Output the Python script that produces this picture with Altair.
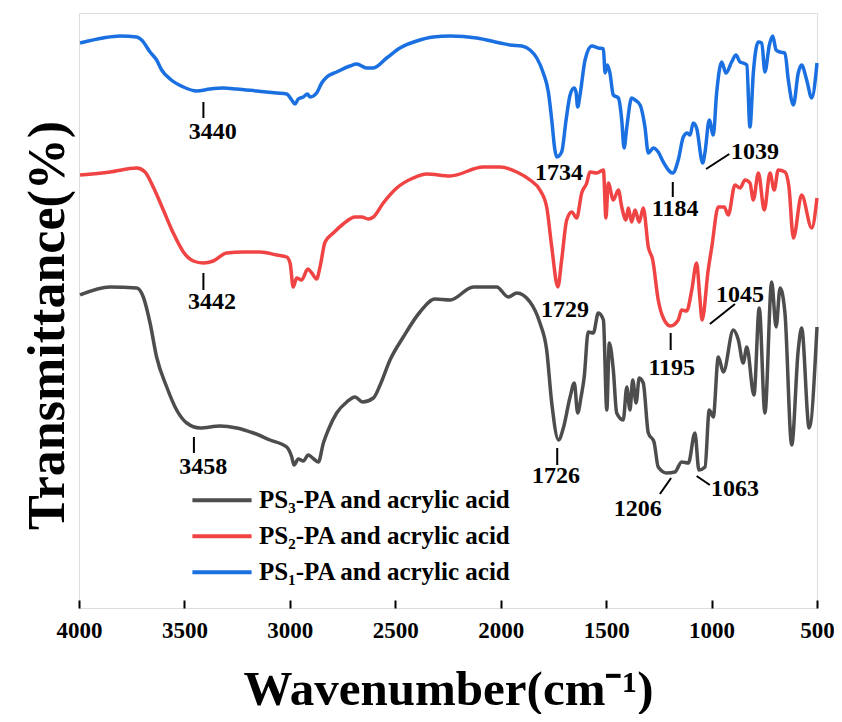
import altair as alt
import pandas as pd

# ---- data (wavenumber cm-1, transmittance a.u.) ----
blue_wn = [3995, 3886, 3806, 3726, 3703, 3663, 3632, 3608, 3568, 3505, 3442, 3379, 3316, 3252, 3157,
           3062, 3015, 2991, 2976, 2960, 2936, 2917, 2904, 2873, 2849, 2825, 2778, 2715, 2683, 2636,
           2604, 2541, 2478, 2398, 2320, 2240, 2114, 2003, 1956, 1900, 1861, 1829, 1798, 1774, 1758,
           1743, 1734, 1711, 1690, 1671, 1652, 1643, 1635, 1624, 1600, 1568, 1537, 1513, 1505, 1494,
           1482, 1466, 1442, 1426, 1415, 1402, 1379, 1363, 1339, 1316, 1300, 1276, 1253, 1229, 1184,
           1158, 1134, 1115, 1102, 1087, 1071, 1042, 1031, 1011, 992, 976, 952, 932, 905, 884,
           865, 850, 833, 818, 802, 778, 762, 747, 726, 710, 694, 675, 652, 636, 612,
           589, 573, 549, 525, 500]
blue_t = [565, 570, 572, 571, 568, 556, 548, 538, 529, 521, 517, 519, 520, 519, 517,
          515, 514, 508, 504, 509, 511, 514, 511, 515, 525, 531, 536, 542, 544, 540,
          540, 550, 560, 567, 571, 572, 570, 565, 563, 562, 558, 550, 535, 516, 488,
          458, 451, 456, 488, 513, 520, 516, 501, 513, 548, 562, 560, 559, 535, 543,
          535, 513, 510, 488, 460, 481, 510, 508, 503, 481, 455, 460, 456, 446, 435,
          448, 471, 475, 473, 485, 480, 445, 456, 488, 473, 515, 546, 535, 546, 553,
          546, 545, 543, 481, 535, 566, 565, 536, 563, 572, 558, 556, 555, 528, 503,
          535, 543, 528, 510, 545]

red_wn = [3995, 3853, 3726, 3687, 3648, 3600, 3553, 3505, 3458, 3411, 3363, 3300, 3221, 3142, 3062,
          3015, 2999, 2984, 2968, 2944, 2915, 2896, 2873, 2857, 2833, 2794, 2747, 2691, 2659, 2628,
          2604, 2557, 2493, 2415, 2351, 2240, 2083, 2003, 1924, 1861, 1814, 1782, 1758, 1729, 1711,
          1687, 1663, 1640, 1616, 1592, 1577, 1545, 1513, 1501, 1490, 1466, 1442, 1426, 1406, 1395,
          1379, 1363, 1343, 1324, 1300, 1279, 1253, 1229, 1195, 1158, 1142, 1118, 1094, 1071, 1056,
          1045, 1016, 999, 968, 940, 921, 889, 865, 841, 818, 802, 778, 750, 723, 703,
          684, 652, 633, 612, 573, 525, 500]
red_t = [433, 436, 440, 436, 421, 398, 375, 356, 347, 345, 347, 355, 356, 356, 353,
         351, 345, 321, 330, 328, 339, 335, 329, 341, 366, 375, 384, 391, 391, 389,
         391, 405, 420, 430, 434, 432, 441, 441, 436, 428, 418, 401, 361, 321, 348,
         388, 396, 390, 415, 425, 436, 435, 438, 390, 425, 408, 418, 401, 388, 400,
         386, 398, 386, 400, 361, 348, 308, 290, 282, 288, 298, 297, 318, 345, 311,
         288, 338, 361, 401, 401, 393, 423, 420, 428, 425, 408, 435, 398, 435, 418,
         438, 436, 421, 370, 413, 380, 410]

black_wn = [3995, 3853, 3726, 3695, 3663, 3632, 3584, 3537, 3489, 3426, 3331, 3252, 3173, 3094, 3015,
            2991, 2980, 2960, 2936, 2913, 2892, 2865, 2841, 2818, 2778, 2730, 2691, 2655, 2604, 2572,
            2525, 2462, 2383, 2312, 2240, 2130, 2019, 1964, 1924, 1861, 1814, 1782, 1758, 1726, 1703,
            1671, 1651, 1635, 1619, 1604, 1585, 1561, 1537, 1513, 1497, 1485, 1466, 1450, 1419, 1402,
            1387, 1374, 1358, 1343, 1324, 1300, 1273, 1253, 1213, 1174, 1142, 1110, 1079, 1060, 1031,
            1011, 992, 968, 944, 897, 873, 850, 833, 799, 774, 747, 715, 694, 675, 652,
            620, 589, 573, 537, 500]
black_t = [313, 321, 320, 311, 285, 251, 221, 198, 185, 180, 182, 180, 175, 168, 161,
           151, 143, 149, 147, 153, 150, 146, 165, 178, 195, 206, 211, 206, 210, 223,
           248, 271, 296, 309, 308, 321, 321, 311, 315, 306, 285, 258, 205, 168, 180,
           211, 225, 195, 211, 231, 276, 275, 295, 288, 198, 265, 238, 195, 188, 221,
           198, 228, 205, 230, 225, 175, 166, 141, 135, 136, 146, 145, 175, 138, 141,
           198, 191, 251, 236, 278, 268, 245, 261, 213, 300, 195, 326, 281, 320, 295,
           163, 258, 280, 180, 281]

series_names = ["PS\u2083-PA and acrylic acid", "PS\u2082-PA and acrylic acid", "PS\u2081-PA and acrylic acid"]
series_colors = ["#4d4d4d", "#f04343", "#1a70e0"]

# peak annotations
ann_text = ["3440", "3442", "3458", "1734", "1184", "1039", "1729", "1195", "1045", "1726", "1206", "1063"]
ann_wn = [3366, 3369, 3411, 1724, 1173, 794, 1695, 1189, 865, 1738, 1350, 889]
ann_t = [476, 306, 141, 435, 399, 456, 298, 240, 313, 132, 99, 119]

# leader lines
lead_wn = [3410, 3410, 3455, 1184, 1026, 1194, 1008, 1732, 1192, 1071]
lead_wn2 = [3410, 3410, 3455, 1184, 916, 1194, 889, 1732, 1245, 1008]
lead_t = [506, 335, 171, 426, 439, 275, 284, 160, 130, 132]
lead_t2 = [490, 318, 155, 411, 454, 258, 304, 143, 114, 123]

x_ticks = [4000, 3500, 3000, 2500, 2000, 1500, 1000, 500]

# ---- tables ----
rows = []
for name, wns, ts in zip(series_names, [black_wn, red_wn, blue_wn], [black_t, red_t, blue_t]):
    for w, t in zip(wns, ts):
        rows.append({"wn": w, "t": t, "series": name})
spec_df = pd.DataFrame(rows)
ann_df = pd.DataFrame({"wn": ann_wn, "t": ann_t, "label": ann_text})
lead_df = pd.DataFrame({"wn": lead_wn, "wn2": lead_wn2, "t": lead_t, "t2": lead_t2})

W, H = 738, 595
FONT = "Liberation Serif"

xscale = alt.Scale(domain=[500, 4000], reverse=True, nice=False, zero=False)
yscale = alt.Scale(domain=[0, 595], nice=False, zero=False)

xaxis_main = alt.Axis(
    values=x_ticks, format="d", ticks=False, tickSize=0, domain=False, grid=False,
    labelFont=FONT, labelFontSize=23, labelFontWeight="bold", labelColor="black",
    labelPadding=11, labelFlush=False,
    title="Wavenumber(cm\u207b\u00b9)", titleFont=FONT, titleFontSize=49, titleFontWeight="bold",
    titleColor="black", titleX=369, titleY=96, titleAlign="center", titleBaseline="alphabetic",
)
xaxis_ticks = alt.Axis(
    orient="top", offset=-H, values=x_ticks, ticks=True, tickSize=8, tickWidth=2, tickColor="black",
    labels=False, domain=False, grid=False, title=None,
)
yaxis = alt.Axis(
    labels=False, ticks=False, domain=False, grid=False,
    title="Transmittance(%)", titleFont=FONT, titleFontSize=52, titleFontWeight="bold",
    titleColor="black", titleX=-16, titleY=312, titleAlign="center", titleBaseline="alphabetic",
    titleAngle=270,
)

lines = alt.Chart(spec_df).mark_line(strokeWidth=3.5, interpolate="monotone").encode(
    x=alt.X("wn:Q", scale=xscale, axis=xaxis_main),
    y=alt.Y("t:Q", scale=yscale, axis=yaxis),
    color=alt.Color(
        "series:N",
        scale=alt.Scale(domain=series_names, range=series_colors),
        legend=alt.Legend(
            orient="none", legendX=122.5, legendY=466.8, title=None, padding=0,
            symbolType="M-1.6,0H1.6", symbolSize=1369, symbolStrokeWidth=4,
            labelFont=FONT, labelFontSize=25, labelFontWeight="bold", labelColor="black",
            labelOffset=16.5, labelLimit=400, rowPadding=2,
        ),
    ),
    order=alt.Order("wn:Q", sort="descending"),
    detail="series:N",
)

texts = alt.Chart(ann_df).mark_text(
    font=FONT, fontSize=24, fontWeight="bold", color="black", align="center", baseline="middle"
).encode(
    x=alt.X("wn:Q", scale=xscale, axis=None),
    y=alt.Y("t:Q", scale=yscale, axis=yaxis),
    text="label:N",
)

rules = alt.Chart(lead_df).mark_rule(strokeWidth=2, color="black").encode(
    x=alt.X("wn:Q", scale=xscale, axis=xaxis_ticks),
    x2="wn2:Q",
    y=alt.Y("t:Q", scale=yscale, axis=yaxis),
    y2="t2:Q",
)

chart = alt.layer(lines, texts, rules).resolve_axis(x="independent").properties(
    width=W, height=H,
    autosize=alt.AutoSizeParams(type="none"),
    padding={"left": 71, "top": 5, "right": 17, "bottom": 106},
).configure_view(stroke="black", strokeWidth=2.5).configure(background="white")

chart.save("out.html", embed_options={"renderer": "svg", "actions": False})
